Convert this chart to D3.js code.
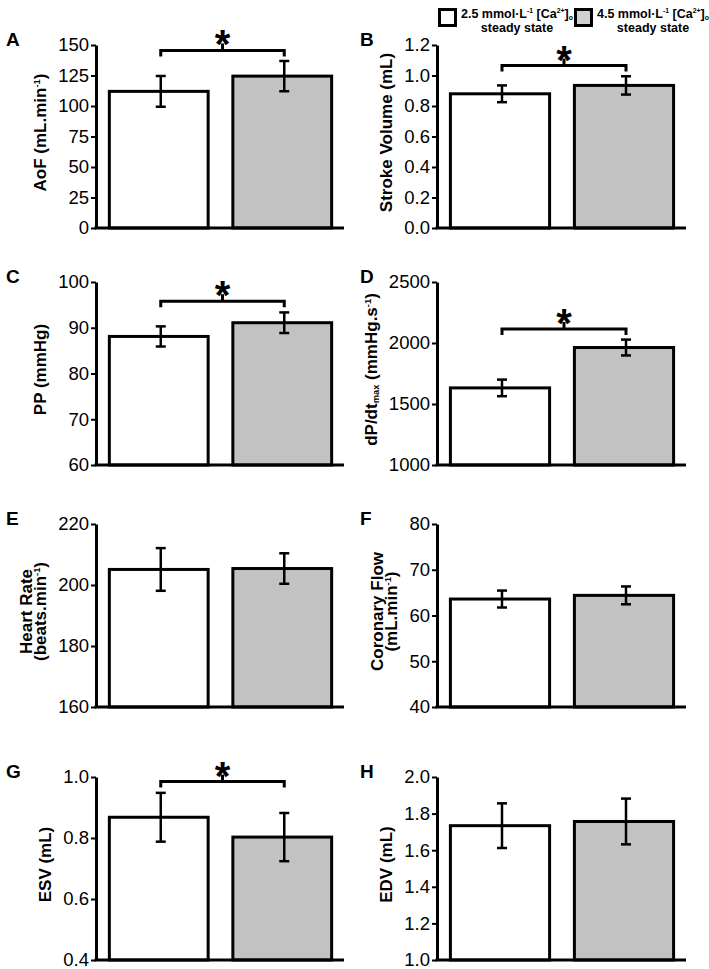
<!DOCTYPE html>
<html>
<head>
<meta charset="utf-8">
<script src="https://cdn.jsdelivr.net/npm/d3@7"></script>
<style>
  html, body { margin: 0; padding: 0; background: #fff; }
  svg { display: block; font-family: "Liberation Sans", Arial, Helvetica, sans-serif; }
</style>
</head>
<body>
<svg id="chart" width="709" height="969"></svg>
<script>
// ---------------- DATA ----------------
const groups = ["2.5 mmol·L⁻¹ [Ca²⁺]o steady state", "4.5 mmol·L⁻¹ [Ca²⁺]o steady state"];
const panelLetters = ["A", "B", "C", "D", "E", "F", "G", "H"];
const means25 = [112, 0.88, 88.1, 1632, 205.1, 63.6, 0.868, 1.734];
const means45 = [124.5, 0.935, 91.1, 1963, 205.4, 64.4, 0.803, 1.757];
const sem25 = [12.6, 0.055, 2.2, 68, 7.0, 1.85, 0.080, 0.122];
const sem45 = [12.4, 0.060, 2.25, 65, 5.0, 1.95, 0.079, 0.125];
const yDomains = [[0, 150], [0, 1.2], [60, 100], [1000, 2500], [160, 220], [40, 80], [0.4, 1.0], [1.0, 2.0]];
const yTicks = [
  [0, 25, 50, 75, 100, 125, 150],
  [0, 0.2, 0.4, 0.6, 0.8, 1.0, 1.2],
  [60, 70, 80, 90, 100],
  [1000, 1500, 2000, 2500],
  [160, 180, 200, 220],
  [40, 50, 60, 70, 80],
  [0.4, 0.6, 0.8, 1.0],
  [1.0, 1.2, 1.4, 1.6, 1.8, 2.0]
];
const tickFormats = ["d", ".1f", "d", "d", "d", "d", ".1f", ".1f"];
// significance bracket level (in data units), null = none
const sigLevels = [145.5, 1.065, 95.8, 2115, null, null, 0.985, null];
// y-axis labels: array of lines, each line array of [text, kind] (kind: n normal, sup, sub)
const yLabels = [
  [[["AoF (mL.min", "n"], ["-1", "sup"], [")", "n"]]],
  [[["Stroke Volume (mL)", "n"]]],
  [[["PP (mmHg)", "n"]]],
  [[["dP/dt", "n"], ["max", "sub"], [" (mmHg.s", "n"], ["-1", "sup"], [")", "n"]]],
  [[["Heart Rate", "n"]], [["(beats.min", "n"], ["-1", "sup"], [")", "n"]]],
  [[["Coronary Flow", "n"]], [["(mL.min", "n"], ["-1", "sup"], [")", "n"]]],
  [[["ESV (mL)", "n"]]],
  [[["EDV (mL)", "n"]]]
];
const legendParts = [
  [["2.5 mmol·L", "n"], ["-1", "sup"], [" [Ca", "n"], ["2+", "sup"], ["]", "n"], ["o", "sub"]],
  [["4.5 mmol·L", "n"], ["-1", "sup"], [" [Ca", "n"], ["2+", "sup"], ["]", "n"], ["o", "sub"]]
];
const legendLine2 = "steady state";

// ---------------- LAYOUT ----------------
const svg = d3.select("#chart");
const colAxisX = [96, 437];
const colEndX = [344, 686];
const rowTop = [45, 282, 524, 777];
const plotH = 183;
const fills = ["#ffffff", "#c2c2c2"];

function addParts(textSel, parts, baseSize) {
  parts.forEach(([t, kind]) => {
    const ts = textSel.append("tspan").text(t);
    if (kind === "sup") {
      ts.attr("font-size", baseSize * 0.55).attr("baseline-shift", "70%");
    } else if (kind === "sub") {
      ts.attr("font-size", baseSize * 0.55).attr("baseline-shift", "-25%");
    }
  });
}

panelLetters.forEach((letter, i) => {
  const col = i % 2, row = Math.floor(i / 2);
  const ax = colAxisX[col], xe = colEndX[col];
  const top = rowTop[row], bottom = top + plotH;
  const g = svg.append("g");

  const y = d3.scaleLinear().domain(yDomains[i]).range([bottom, top]);
  const x = d3.scaleBand().domain([0, 1]).range([ax + 1, xe]).paddingInner(0.2).paddingOuter(0.1);

  // bars
  const vals = [means25[i], means45[i]];
  const errs = [sem25[i], sem45[i]];
  g.selectAll("rect.bar").data(vals).enter().append("rect")
    .attr("x", (d, k) => x(k))
    .attr("width", x.bandwidth())
    .attr("y", d => y(d))
    .attr("height", d => bottom - y(d))
    .attr("fill", (d, k) => fills[k])
    .attr("stroke", "#000")
    .attr("stroke-width", 3);

  // error bars
  const cap = 5;
  vals.forEach((v, k) => {
    const cx = x(k) + x.bandwidth() / 2 + 2;
    const y1 = y(v + errs[k]), y2 = y(v - errs[k]);
    g.append("line").attr("x1", cx).attr("x2", cx).attr("y1", y1).attr("y2", y2)
      .attr("stroke", "#000").attr("stroke-width", 2.5);
    [y1, y2].forEach(yy => g.append("line").attr("x1", cx - cap).attr("x2", cx + cap)
      .attr("y1", yy).attr("y2", yy).attr("stroke", "#000").attr("stroke-width", 2.5));
  });

  // y axis
  const axis = d3.axisLeft(y).tickValues(yTicks[i]).tickFormat(d3.format(tickFormats[i]))
    .tickSize(5).tickSizeOuter(0).tickPadding(2);
  const ag = g.append("g").attr("transform", `translate(${ax},0)`).call(axis);
  ag.select(".domain").attr("stroke-width", 3).attr("stroke", "#000");
  ag.selectAll(".tick line").attr("stroke-width", 2).attr("stroke", "#000");
  ag.selectAll(".tick text").attr("font-size", 18.5).attr("fill", "#000")
    .attr("font-family", "'Liberation Sans', Arial, sans-serif");

  // baseline
  g.append("line").attr("x1", ax - 1.5).attr("x2", xe).attr("y1", bottom).attr("y2", bottom)
    .attr("stroke", "#000").attr("stroke-width", 3);

  // y label
  let minX = ax;
  ag.selectAll(".tick text").each(function () {
    const b = this.getBBox();
    const left = ax + b.x;
    if (left < minX) minX = left;
  });
  const lines = yLabels[i];
  const cy = (top + bottom) / 2 - 4;
  const fs = 17;
  const lineGap = 14.5;
  const lastX = minX - 12;
  lines.forEach((ln, li) => {
    const lx = lastX - (lines.length - 1 - li) * lineGap;
    const t = g.append("text")
      .attr("transform", `translate(${lx},${cy}) rotate(-90)`)
      .attr("text-anchor", "middle")
      .attr("font-weight", "bold")
      .attr("font-size", fs)
      .attr("fill", "#000");
    addParts(t, ln, fs);
  });

  // panel letter
  g.append("text").attr("x", col === 0 ? 6 : 360).attr("y", top + 1)
    .attr("font-weight", "bold").attr("font-size", 19).attr("fill", "#000").text(letter);

  // significance bracket
  if (sigLevels[i] !== null) {
    const by = y(sigLevels[i]);
    const xa = x(0) + x.bandwidth() / 2 + 2, xb = x(1) + x.bandwidth() / 2 + 2;
    const mid = (xa + xb) / 2;
    g.append("path")
      .attr("d", `M${xa},${by + 6}V${by}H${xb}V${by + 6}`)
      .attr("fill", "none").attr("stroke", "#000").attr("stroke-width", 3);
    g.append("line").attr("x1", mid).attr("x2", mid).attr("y1", by).attr("y2", by - 7)
      .attr("stroke", "#000").attr("stroke-width", 3);
    g.append("text").attr("x", mid).attr("y", by + 8).attr("text-anchor", "middle")
      .attr("font-weight", "bold").attr("font-size", 40).attr("fill", "#000").text("*");
  }
});

// ---------------- LEGEND ----------------
const legX = [438, 574];
legendParts.forEach((parts, k) => {
  const lx = legX[k];
  svg.append("rect").attr("x", lx + 1.5).attr("y", 9.5).attr("width", 16).attr("height", 16)
    .attr("fill", k === 0 ? "#fff" : "#d0d0d0")
    .attr("stroke", "#000").attr("stroke-width", 3);
  const t = svg.append("text").attr("x", lx + 23).attr("y", 18)
    .attr("font-weight", "bold").attr("font-size", 12.5).attr("fill", "#000");
  addParts(t, parts, 12.5);
  svg.append("text").attr("x", lx + 79).attr("y", 32).attr("text-anchor", "middle")
    .attr("font-weight", "bold").attr("font-size", 12.5).attr("fill", "#000").text(legendLine2);
});
</script>
</body>
</html>
